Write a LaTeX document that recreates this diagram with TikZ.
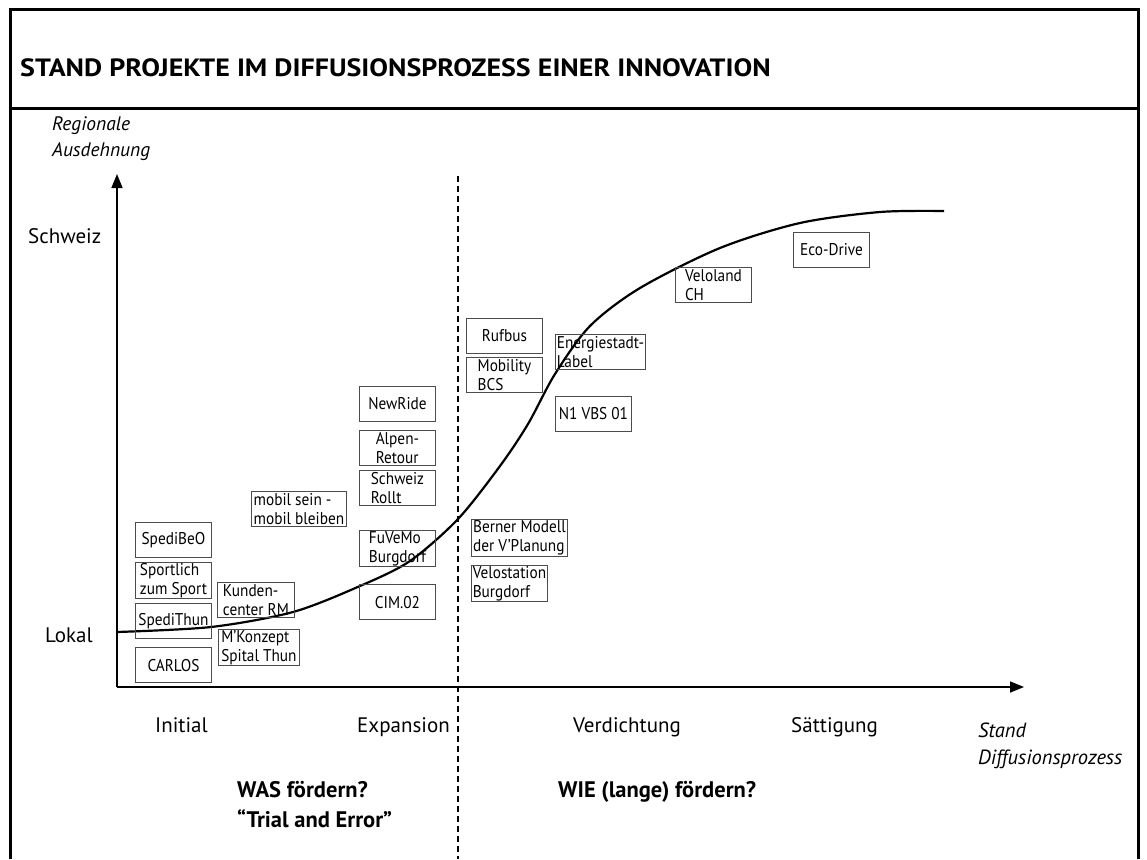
\documentclass[tikz,border=0pt]{standalone}
\usepackage{fontspec}
\setmainfont{PT Sans}
\newfontfamily\narrowsans{PT Sans}[FakeStretch=0.9]
\newfontfamily\widesans{PT Sans}[FakeStretch=1.12]
\usetikzlibrary{positioning,arrows.meta}

\begin{document}
\begin{tikzpicture}[x=1pt, y=-1pt, node distance=4pt,
        projbox/.style={rectangle, draw=black!70, line width=0.9pt, minimum width=76pt, minimum height=35pt, align=left, inner sep=1pt, font=\narrowsans\fontsize{17}{19}\selectfont},
        phase/.style={inner sep=0pt, font=\fontsize{21}{24}\selectfont},
        note/.style={inner sep=0pt, align=left, font=\bfseries\fontsize{22.5}{30}\selectfont},
        axis/.style={draw, line width=1.5pt, -{Triangle[length=14pt,width=11pt]}},
        frame/.style={line width=3pt}]

    \useasboundingbox (0,0) rectangle (1147,859);

    \draw[frame] (10,859) -- (10,10) -- (1138,10) -- (1138,859);
    \draw[frame] (10,108) -- (1138,108);
    \node[anchor=base west, inner sep=0pt, font=\widesans\bfseries\fontsize{25}{28}\selectfont] (title) at (20,77) {STAND PROJEKTE IM DIFFUSIONSPROZESS EINER INNOVATION};

    \coordinate (origin) at (117,687);
    \coordinate (ytop) at (117,174);
    \coordinate (xend) at (1024,687);
    \coordinate (splittop) at (458,176);
    \coordinate (splitbot) at (458,859);

    \path [axis] (origin) -- (ytop);
    \path [axis] (origin) -- (xend);
    \draw [line width=1.3pt, dash pattern=on 6pt off 4pt] (splittop) -- (splitbot);

    \node[anchor=north west, inner sep=0pt, align=left, font=\itshape\fontsize{19.5}{26}\selectfont] (ylabel) at (52,116) {Regionale\\Ausdehnung};
    \node[anchor=north west, inner sep=0pt, align=left, font=\itshape\fontsize{20.5}{27}\selectfont] (xlabel) at (978,723) {Stand\\Diffusionsprozess};
    \node[phase, anchor=base west] (schweiz) at (28,243) {Schweiz};
    \node[phase, anchor=base west] (lokal) at (45,642) {Lokal};

    \node[phase, anchor=base west] (initial) at (155,732) {Initial};
    \node[phase, anchor=base west] (expansion) at (357,732) {Expansion};
    \node[phase, anchor=base west] (verdichtung) at (573,732) {Verdichtung};
    \node[phase, anchor=base west] (saettigung) at (791,732) {Sättigung};

    \node[note, anchor=north west] (was) at (237,781) {WAS fördern?\\“Trial and Error”};
    \node[note, anchor=north west] (wie) at (558,781) {WIE (lange) fördern?};

    % S-Kurve
    \draw [line width=2.2pt] plot [smooth, tension=0.5] coordinates {(117,632) (211,627) (293,612) (360,586) (410,561) (458,519) (500,466) (528,424) (555,374) (590,326) (640,288) (720,248) (800,223) (880,212) (944,211)};

    \node [projbox, anchor=north west] (spedibeo) at (135,522) {SpediBeO};
    \node [projbox, below=of spedibeo] (sportlich) {Sportlich\\zum Sport};
    \node [projbox, below=of sportlich] (spedithun) {SpediThun};
    \node [projbox, below=8pt of spedithun] (carlos) {CARLOS};

    \node [projbox, anchor=north west, minimum width=77pt] (kunden) at (217,582) {Kunden-\\center RM};
    \node [projbox, anchor=north west, minimum width=81pt] (mkonzept) at (218,629) {M’Konzept\\Spital Thun};
    \node [projbox, anchor=north west, minimum width=95pt] (mobil) at (251,491) {mobil sein -\\mobil bleiben};

    \node [projbox, anchor=north west] (newride) at (359,386) {NewRide};
    \node [projbox, below=8pt of newride] (alpen) {Alpen-\\Retour};
    \node [projbox, below=of alpen] (rollt) {Schweiz\\Rollt};
    \node [projbox, below=24pt of rollt] (fuvemo) {FuVeMo\\Burgdorf};
    \node [projbox, below=17pt of fuvemo] (cim) {CIM.02};

    \node [projbox, anchor=north west] (rufbus) at (466,318) {Rufbus};
    \node [projbox, below=3pt of rufbus] (mobility) {Mobility\\BCS};
    \node [projbox, anchor=north west, minimum width=90pt] (energie) at (555,334) {Energiestadt-\\Label};
    \node [projbox, anchor=north west] (nvbs) at (555,396) {N1 VBS 01};
    \node [projbox, anchor=north west, minimum width=96pt] (berner) at (471,519) {Berner Modell\\der V’Planung};
    \node [projbox, below=8pt of berner.south west, anchor=north west] (velostation) {Velostation\\Burgdorf};

    \node [projbox, anchor=north west] (veloland) at (675,267) {Veloland\\CH};
    \node [projbox, anchor=north west] (ecodrive) at (793,232) {Eco-Drive};
\end{tikzpicture}
\end{document}
